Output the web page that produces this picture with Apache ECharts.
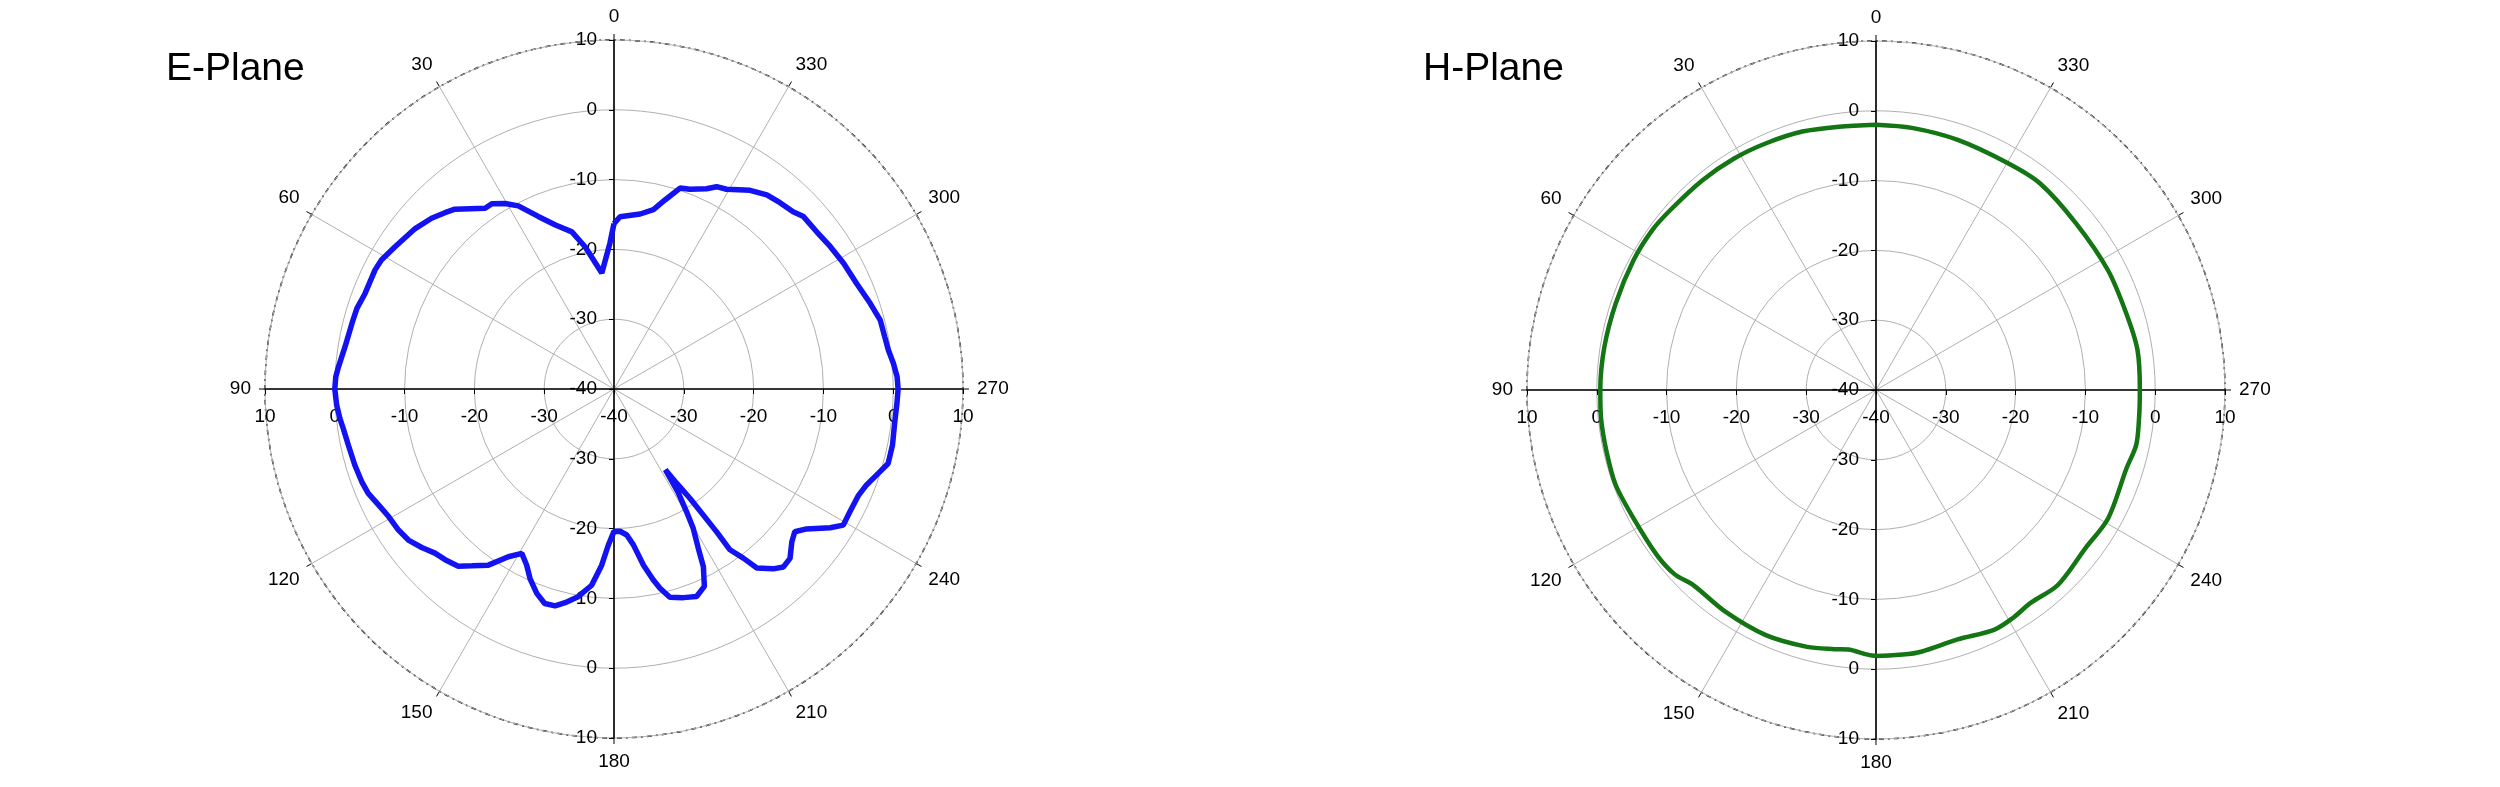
<!DOCTYPE html>
<html>
<head>
<meta charset="utf-8">
<title>E-Plane / H-Plane</title>
<script src="https://cdn.jsdelivr.net/npm/echarts@6/dist/echarts.min.js"></script>
<style>
html, body { margin: 0; padding: 0; background: #fff; }
#chart { width: 2500px; height: 787px; }
</style>
</head>
<body>
<div id="chart"></div>
<script>
// E-plane pattern: angle (deg) / gain (dB)
var eAngle = [0, 1.6, 6, 11.5, 15, 19.8, 23.7, 27.6, 30.4, 33.4, 35.5,
	41.5, 43.8, 46.9, 51.1, 57, 61, 63.5, 69, 72.6, 75.9,
	81, 85.4, 87.5, 90, 93.3, 96.1, 98.3, 101.9, 106.4, 110.2,
	113, 116.2, 119.5, 123.2, 126.3, 129.5, 132.5, 135.3, 138.7, 141.2,
	144.5, 147.8, 150.7, 153.6, 156.1, 159.3, 162.1, 164.8, 167.1, 170.2,
	173.5, 176, 177.9, 180, 182.4, 185, 187.1, 189.5, 191.6, 193,
	195, 198.4, 201.7, 204.6, 206.7, 207.9, 209.6, 210.6, 211.8, 212.5,
	213.6, 214.8, 215.3, 215.7, 215.8, 217.4, 218.6, 221.5, 223.6, 226.1,
	229.3, 231.7, 234, 237.3, 239.3, 242.5, 246.5, 249.2, 251.9, 254.8,
	258.6, 263.4, 267.4, 270, 272.5, 275.2, 278.1, 280.9, 284.5, 288.5,
	293.5, 298.7, 303.4, 307.8, 312.3, 314.7, 318.3, 321.8, 325.6, 330.6,
	333.1, 335.2, 339.2, 341.8, 344.9, 347.6, 351.5, 358, 360];
var eGain = [-16.3, -19.1, -23.3, -19.2, -16.7, -15.0, -13.0, -10.4, -9.2, -8.2, -8.2,
	-5.6, -5.0, -4.2, -3.4, -2.6, -1.9, -1.75, -1.8, -1.4, -1.3,
	-1.0, -0.4, -0.1, 0.0, -0.2, -0.5, -0.8, -1.1, -1.3, -1.5,
	-1.75, -2.4, -2.9, -3.1, -3.45, -4.3, -5.2, -5.6, -6.2, -7.5,
	-9.0, -11.6, -13.0, -11.85, -10.3, -8.7, -7.7, -7.8, -8.6, -9.8,
	-11.7, -14.7, -17.6, -19.6, -19.6, -19.0, -17.5, -14.4, -12.1, -10.7,
	-9.1, -8.5, -8.0, -8.9, -11.5, -14.2, -17.0, -19.6, -22.6, -26.3,
	-23.8, -20.9, -17.9, -14.8, -11.6, -9.5, -7.2, -5.6, -4.8, -5.0,
	-6.4, -7.0, -5.9, -3.2, -1.8, -1.9, -1.8, -1.3, -0.4, 0.7,
	0.7, 0.5, 0.6, 0.7, 0.6, 0.2, -0.3, -0.5, -0.6, -1.3,
	-2.1, -2.5, -2.9, -3.25, -3.3, -3.9, -4.25, -4.6, -5.5, -7.15,
	-7.5, -8.4, -9.4, -9.7, -11.95, -13.7, -14.65, -15.3, -16.3];

// H-plane pattern
var hAngle = [0, 8, 15.9, 24, 31.5, 39.6, 48.8, 54.5, 61.8, 71.6,
	81, 90, 95.9, 102.9, 110, 117.9, 127, 132.5, 136.8, 145.8,
	155.8, 165, 170.9, 173.9, 177.9, 180, 185.8, 189.8, 198.1, 206.2,
	210.9, 215.9, 223, 232.9, 241.1, 252.6, 258.1, 263.9, 270, 278.7,
	287, 297.3, 309.8, 321.6, 329.8, 341.9, 352.2, 360];
var hGain = [-2.0, -1.9, -1.5, -1.3, -1.1, -1.0, -0.85, -0.6, -0.6, -0.7,
	-0.6, -0.5, -0.4, -0.4, -0.3, -0.7, -0.7, -0.9, -1.7, -1.6,
	-1.5, -1.9, -2.4, -2.6, -2.1, -1.9, -1.9, -1.95, -2.4, -1.7,
	-1.9, -2.3, -1.8, -2.4, -2.0, -2.4, -1.9, -2.1, -2.2, -2.1,
	-2.5, -2.6, -2.7, -2.2, -2.4, -2.3, -2.1, -2.0];

var planeNames = ['E-Plane', 'H-Plane'];
var rMin = -40, rMax = 10, rStep = 10;
var angleStep = 30;

var font = '"Liberation Sans", Arial, sans-serif';
var centers = [[614, 389], [1876, 390]];
var R = 349;
// radius axes: up, down, left, right
var dirs = [90, 270, 180, 0];

var polar = [], angleAxis = [], radiusAxis = [];
centers.forEach(function(c, p) {
	dirs.forEach(function(d, k) {
		var idx = p * 4 + k;
		var main = (d === 90);
		polar.push({ center: c, radius: R });
		angleAxis.push({
			polarIndex: idx,
			type: 'value',
			min: 0,
			max: 360,
			interval: angleStep,
			startAngle: d,
			clockwise: false,
			show: main,
			axisLine: { show: true, lineStyle: { color: '#000', width: 1.5, type: [5, 4, 2, 4] } },
			axisTick: { show: true, length: 6, lineStyle: { color: '#000', width: 1 } },
			axisLabel: {
				margin: 14,
				color: '#000',
				fontSize: 19,
				fontFamily: font,
				formatter: function(v) { return v === 360 ? '' : String(v); }
			},
			splitLine: { show: true, lineStyle: { color: '#b0b0b0', width: 1 } }
		});
		var vertical = (d === 90 || d === 270);
		var flip = (d === 270 || d === 0);
		var label = {
			color: '#000',
			fontSize: 19,
			fontFamily: font,
			showMinLabel: (d === 90 || d === 180),
			margin: (vertical ? 17 : 18) * (flip ? -1 : 1)
		};
		if (d === 270) label.align = 'right';
		if (d === 0) label.verticalAlign = 'top';
		radiusAxis.push({
			polarIndex: idx,
			type: 'value',
			min: rMin,
			max: rMax,
			interval: rStep,
			axisLine: { show: true, lineStyle: { color: '#000', width: 1.6 } },
			axisTick: { show: true, length: flip ? -5 : 5, lineStyle: { color: '#000', width: 1 } },
			axisLabel: label,
			splitLine: { show: main, lineStyle: { color: '#b0b0b0', width: 1 } },
			z: 3
		});
	});
});

function pairs(ang, gain) {
	return ang.map(function(a, i) { return [gain[i], a]; });
}

var option = {
	backgroundColor: '#fff',
	animation: false,
	title: planeNames.map(function(n, p) {
		return {
			text: n,
			left: p === 0 ? 166 : 1423,
			top: 50,
			padding: 0,
			textStyle: { fontSize: 39, fontWeight: 'normal', color: '#000', fontFamily: font }
		};
	}),
	polar: polar,
	angleAxis: angleAxis,
	radiusAxis: radiusAxis,
	series: [{
		name: planeNames[0],
		type: 'line',
		coordinateSystem: 'polar',
		polarIndex: 0,
		symbol: 'none',
		lineStyle: { color: '#1212f2', width: 5.5 },
		data: pairs(eAngle, eGain),
		z: 10
	}, {
		name: planeNames[1],
		type: 'line',
		coordinateSystem: 'polar',
		polarIndex: 4,
		symbol: 'none',
		smooth: 0.3,
		lineStyle: { color: '#137513', width: 4.5 },
		data: pairs(hAngle, hGain),
		z: 10
	}]
};

var chart = echarts.init(document.getElementById('chart'));
chart.setOption(option);
</script>
</body>
</html>
